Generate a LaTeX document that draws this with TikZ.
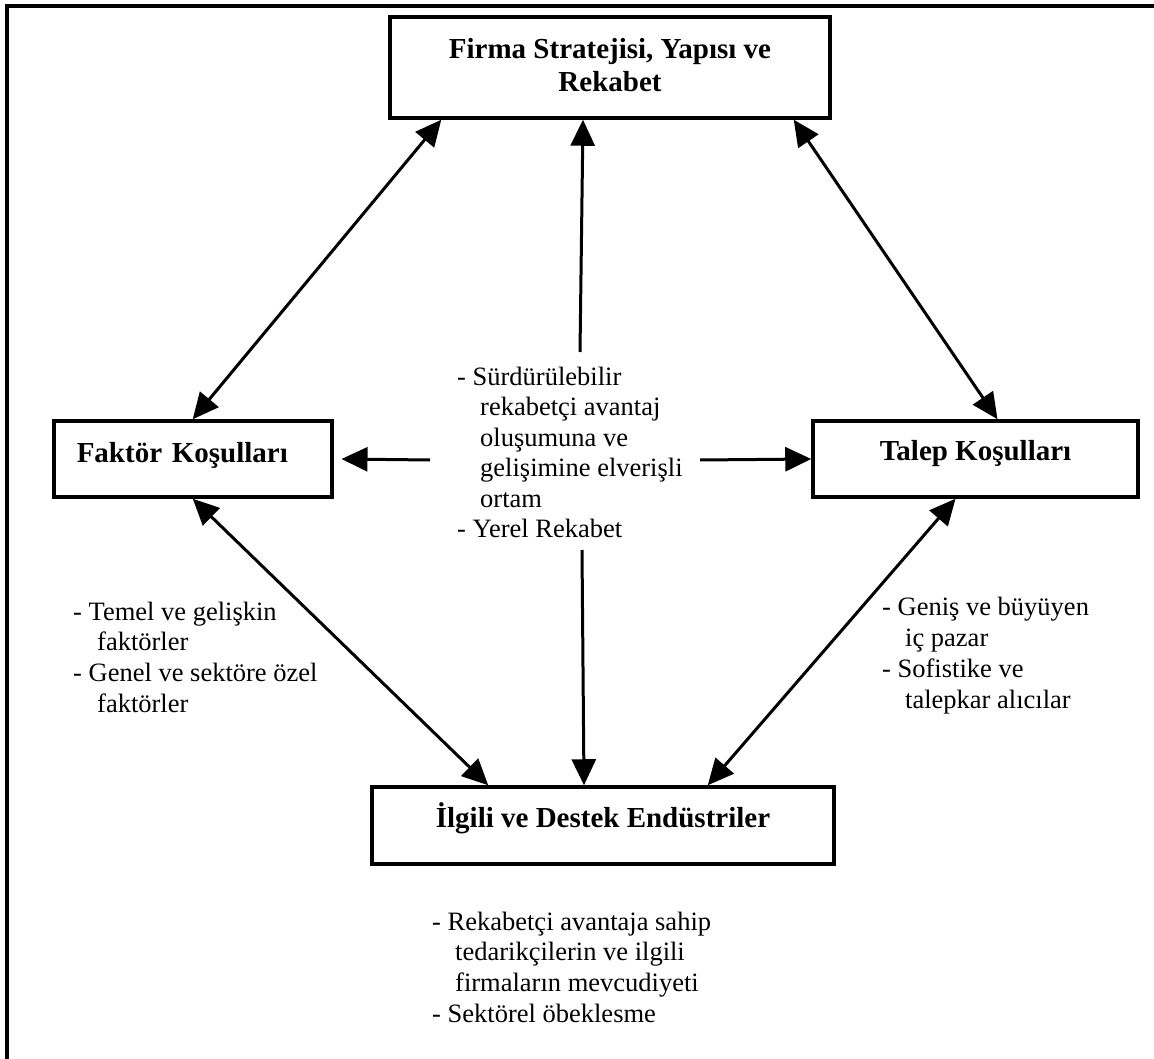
\documentclass[tikz,border=0pt]{standalone}
\usepackage{fontspec}
\setmainfont{Liberation Serif}
\usetikzlibrary{arrows.meta}
\begin{document}
\begin{tikzpicture}[x=1pt,y=-1pt,
  box/.style={draw, rectangle, line width=3.5pt, inner sep=0pt,
    font=\fontsize{29}{33}\selectfont\bfseries},
  note/.style={anchor=base west, inner sep=0pt,
    font=\fontsize{26.5}{30.5}\selectfont},
  link/.style={line width=3pt, -{Triangle[length=26pt,width=24pt]}},
  both/.style={line width=3pt,
    {Triangle[length=26pt,width=24pt]}-{Triangle[length=26pt,width=24pt]}},
]
\useasboundingbox (0,0) rectangle (1154,1059);

% frame
\draw[line width=3.5pt] (7,1059) -- (7,6) -- (1154,6);

% the four boxes
\node[box, anchor=base, minimum width=440pt, text height=42pt, text depth=59pt]
  (firma) at (610,59)
  {\begin{tabular}[t]{@{}c@{}}Firma Stratejisi, Yapısı ve\\Rekabet\end{tabular}};
\node[box, anchor=base west, text width=232pt, inner xsep=23pt, align=left,
  text height=41pt, text depth=35pt]
  (faktor) at (52,462) {Faktör Koşulları};
\node[box, anchor=base, minimum width=325pt, text height=39pt, text depth=37pt]
  (talep) at (975.5,460) {Talep Koşulları};
\node[box, anchor=base, minimum width=462pt, text height=40pt, text depth=37pt]
  (ilgili) at (603,827) {İlgili ve Destek Endüstriler};

% explanatory notes
\node[note] (merkez) at (457,385) {\begin{tabular}[t]{@{}l@{}}
  - Sürdürülebilir\\
  \hspace*{23pt}rekabetçi avantaj\\
  \hspace*{23pt}oluşumuna ve\\
  \hspace*{23pt}gelişimine elverişli\\
  \hspace*{23pt}ortam\\
  - Yerel Rekabet\end{tabular}};
\node[note, font=\fontsize{26.5}{30.7}\selectfont] (sol) at (73,620) {\begin{tabular}[t]{@{}l@{}}
  - Temel ve gelişkin\\
  \hspace*{24pt}faktörler\\
  - Genel ve sektöre özel\\
  \hspace*{24pt}faktörler\end{tabular}};
\node[note, font=\fontsize{26.5}{31}\selectfont] (sag) at (882,615) {\begin{tabular}[t]{@{}l@{}}
  - Geniş ve büyüyen\\
  \hspace*{23pt}iç pazar\\
  - Sofistike ve\\
  \hspace*{23pt}talepkar alıcılar\end{tabular}};
\node[note, font=\fontsize{26.5}{30.7}\selectfont] (alt) at (432,930) {\begin{tabular}[t]{@{}l@{}}
  - Rekabetçi avantaja sahip\\
  \hspace*{23pt}tedarikçilerin ve ilgili\\
  \hspace*{23pt}firmaların mevcudiyeti\\
  - Sektörel öbeklesme\end{tabular}};

% free ends of the arrows leaving the centre
\coordinate (cu) at (580,352);
\coordinate (cd) at (582,550);
\coordinate (cl) at (430,460);
\coordinate (cr) at (700,460);

% connectors
\draw[both] (faktor.north) -- ([xshift=53pt]firma.south west);
\draw[both] ([xshift=22pt]talep.north) -- ([xshift=-38pt]firma.south east);
\draw[link] (cu) -- ([xshift=-27pt]firma.south);
\draw[link] (cl) -- ([xshift=8pt]faktor.east);
\draw[link] (cr) -- (talep.west);
\draw[both] (faktor.south) -- ([xshift=118pt]ilgili.north west);
\draw[link] (cd) -- ([xshift=-19pt]ilgili.north);
\draw[both] ([xshift=-20pt]talep.south) -- ([xshift=-128pt]ilgili.north east);
\end{tikzpicture}
\end{document}
